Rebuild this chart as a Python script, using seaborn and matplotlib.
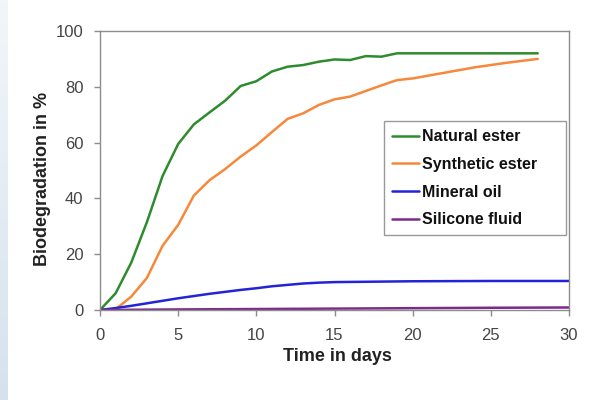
import numpy as np
import pandas as pd
import seaborn as sns
import matplotlib.pyplot as plt

# values
natural_days = list(range(0, 29))
natural_ester = [0, 6, 17, 31.5, 48, 59.5, 66.5, 70.8, 75, 80.3, 82, 85.5, 87.2, 87.8, 89,
                 89.8, 89.6, 91, 90.8, 92, 92, 92, 92, 92, 92, 92, 92, 92, 92]

synthetic_days = list(range(0, 29))
synthetic_ester = [0, 0.3, 4.8, 11.5, 23, 30.5, 41, 46.5, 50.5, 55, 59, 63.8, 68.5, 70.5, 73.5,
                   75.5, 76.5, 78.5, 80.5, 82.4, 83, 84, 85, 86, 87, 87.8, 88.6, 89.3, 90]

mineral_days = list(range(0, 16)) + [20, 25, 30]
mineral_oil = [0, 0.7, 1.5, 2.4, 3.3, 4.2, 5, 5.8, 6.5, 7.2, 7.8, 8.5, 9, 9.5, 9.8, 10,
               10.3, 10.4, 10.4]

silicone_days = [0, 5, 10, 15, 20, 25, 30]
silicone_fluid = [0, 0.2, 0.35, 0.5, 0.65, 0.8, 0.9]

labels = ['Natural ester', 'Synthetic ester', 'Mineral oil', 'Silicone fluid']
colors = ['#2e8b2e', '#f7883a', '#2323d8', '#7d2a8c']

frames = []
for name, d, v in zip(labels,
                      [natural_days, synthetic_days, mineral_days, silicone_days],
                      [natural_ester, synthetic_ester, mineral_oil, silicone_fluid]):
    frames.append(pd.DataFrame({'day': d, 'value': v, 'series': name}))
df = pd.concat(frames, ignore_index=True)

sns.set_style('white')
plt.rcParams['font.family'] = ['Liberation Sans', 'DejaVu Sans']

fig = plt.figure(figsize=(6.02, 4.0), dpi=100)

# light blue strip on the left edge
strip = fig.add_axes([0, 0, 8 / 602, 1])
grad = np.linspace(0, 1, 100).reshape(-1, 1)
strip.imshow(grad, aspect='auto', cmap=plt.matplotlib.colors.LinearSegmentedColormap.from_list(
    'bg', ['#f2f6fa', '#d5e2ed']))
strip.axis('off')

ax = fig.add_axes([100 / 602, 90 / 400, 469 / 602, 279 / 400])
sns.lineplot(data=df, x='day', y='value', hue='series', palette=dict(zip(labels, colors)),
             linewidth=1.8, ax=ax, estimator=None, sort=False)

ax.set_xlim(0, 30)
ax.set_ylim(0, 100)
ax.set_xticks(range(0, 31, 5))
ax.set_yticks(range(0, 101, 20))
for s in ax.spines.values():
    s.set_color('#8c8c8c')
    s.set_linewidth(1.0)
ax.tick_params(axis='both', which='both', direction='out', length=4, width=1,
               color='#8c8c8c', labelsize=12, labelcolor='#444444',
               bottom=True, left=True)
ax.tick_params(axis='x', pad=9)
ax.tick_params(axis='y', pad=8)
ax.set_xlabel('Time in days', fontsize=13, fontweight='bold', color='#222222')
ax.set_ylabel('Biodegradation in %', fontsize=13, fontweight='bold', color='#222222')
ax.xaxis.set_label_coords(0.506, -0.136)
ax.yaxis.set_label_coords(-0.105, 0.47)

leg = ax.legend(loc='upper left', bbox_to_anchor=(0.6055, 0.28, 0.388, 0.397), mode='expand',
                fontsize=11.5, frameon=True, fancybox=False, framealpha=1, edgecolor='#999999',
                handlelength=1.7, handletextpad=0.15, labelspacing=0.8,
                borderpad=0.5, borderaxespad=0)
for t in leg.get_texts():
    t.set_fontweight('bold')
    t.set_color('#111111')

fig.savefig('out.png', dpi=100)
